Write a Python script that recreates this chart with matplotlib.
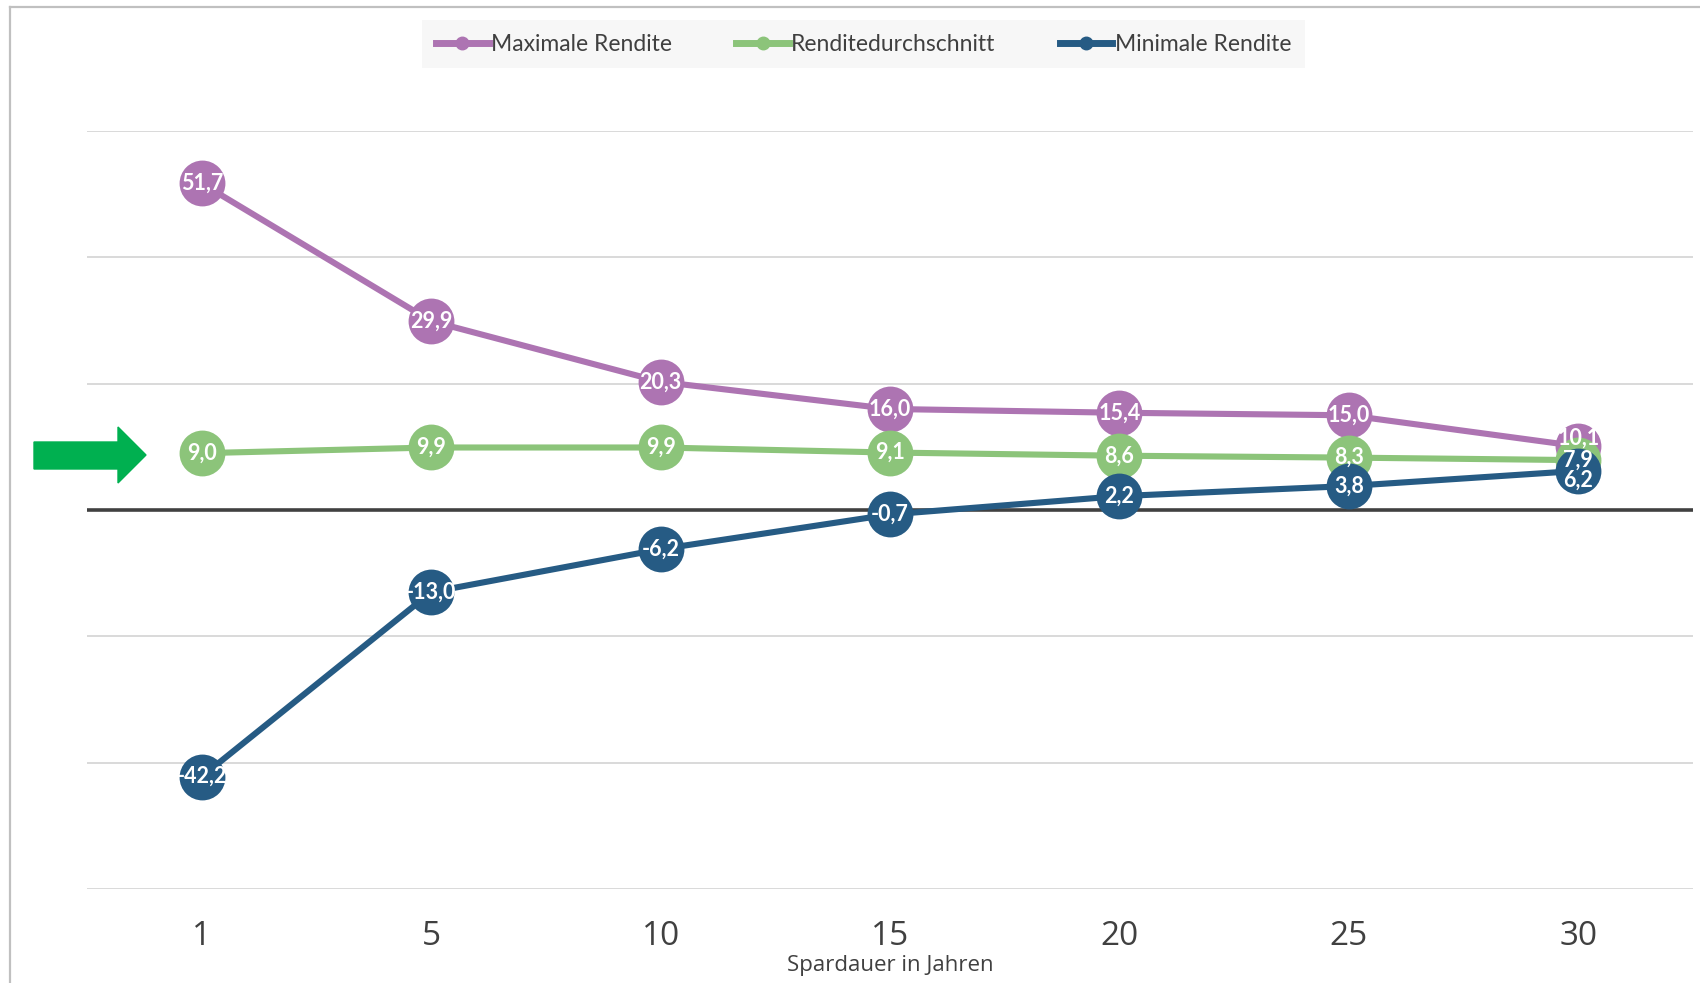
import matplotlib.pyplot as plt
from matplotlib.patches import Polygon
from matplotlib.lines import Line2D
import numpy as np

# Daten
jahre = ['1', '5', '10', '15', '20', '25', '30']
maximal = [51.7, 29.9, 20.3, 16.0, 15.4, 15.0, 10.1]
durchschnitt = [9.0, 9.9, 9.9, 9.1, 8.6, 8.3, 7.9]
minimal = [-42.2, -13.0, -6.2, -0.7, 2.2, 3.8, 6.2]

namen = ['Maximale Rendite', 'Renditedurchschnitt', 'Minimale Rendite']
farben = ['#ad74b2', '#8cc47a', '#265b84']

schmal = ['Lato', 'DejaVu Sans']

fig = plt.figure(figsize=(17, 9.83), dpi=100)
ax = fig.add_axes([0.0512, 0.0956, 0.9447, 0.7711])

x = np.arange(len(jahre))

# Gitterlinien
for g in [-60, -40, -20, 20, 40, 60]:
    ax.axhline(g, color='#d9d9d9', lw=1.4, zorder=0)
ax.axhline(0, color='#404040', lw=2.6, zorder=1)

# Linien mit Markern
for werte, farbe in zip([maximal, durchschnitt, minimal], farben):
    ax.plot(x, werte, color=farbe, lw=4.4, marker='o', markersize=33,
            markeredgewidth=0, zorder=3)

# Datenbeschriftungen
def beschriften(werte, offsets=None):
    for i, v in enumerate(werte):
        dy = 0 if offsets is None else offsets.get(i, 0)
        ax.annotate(f'{v:.1f}'.replace('.', ','), (x[i], v), xytext=(0, dy),
                    textcoords='offset points', ha='center', va='center',
                    color='white', fontsize=15.5, fontweight='bold',
                    family=schmal, zorder=5)

beschriften(maximal, {6: 6})
beschriften(durchschnitt)
beschriften(minimal, {6: -7})

ax.set_xlim(-0.5, 6.5)
ax.set_ylim(-60, 60)
ax.set_xticks(x)
ax.set_xticklabels(jahre, fontsize=24, color='#404040', family='Open Sans')
ax.set_yticks([])
ax.tick_params(axis='x', length=0, pad=22)
for s in ax.spines.values():
    s.set_visible(False)
ax.set_xlabel('Spardauer in Jahren', fontsize=16, color='#404040',
              family='Open Sans', labelpad=2)

# Legende
griffe = [Line2D([0], [0], color=f, lw=5, marker='o', markersize=9) for f in farben]
leg = fig.legend(griffe, namen, loc='center', bbox_to_anchor=(0.508, 0.955),
                 ncol=3, frameon=True, fancybox=False, facecolor='#f5f5f5',
                 edgecolor='none', prop={'family': schmal, 'size': 16.5},
                 handlelength=2.3, handletextpad=0.1, columnspacing=2.8,
                 borderpad=0.6, labelcolor='#404040')
leg.get_frame().set_linewidth(0)

# gruener Pfeil
pfeil = [(34, 442), (118, 442), (118, 427), (146, 455), (118, 483),
         (118, 469), (34, 469)]
pfeil = [(px / 1700, 1 - py / 983) for px, py in pfeil]
fig.patches.append(Polygon(pfeil, closed=True, color='#00b050',
                           transform=fig.transFigure))

# Rahmen oben und links
fig.add_artist(Line2D([9.5 / 1700, 1], [1 - 6.5 / 983, 1 - 6.5 / 983],
                      color='#c0c0c0', lw=1.6, transform=fig.transFigure))
fig.add_artist(Line2D([9.5 / 1700, 9.5 / 1700], [0, 1 - 6.5 / 983],
                      color='#c0c0c0', lw=1.6, transform=fig.transFigure))

fig.savefig('out.png', dpi=100)
